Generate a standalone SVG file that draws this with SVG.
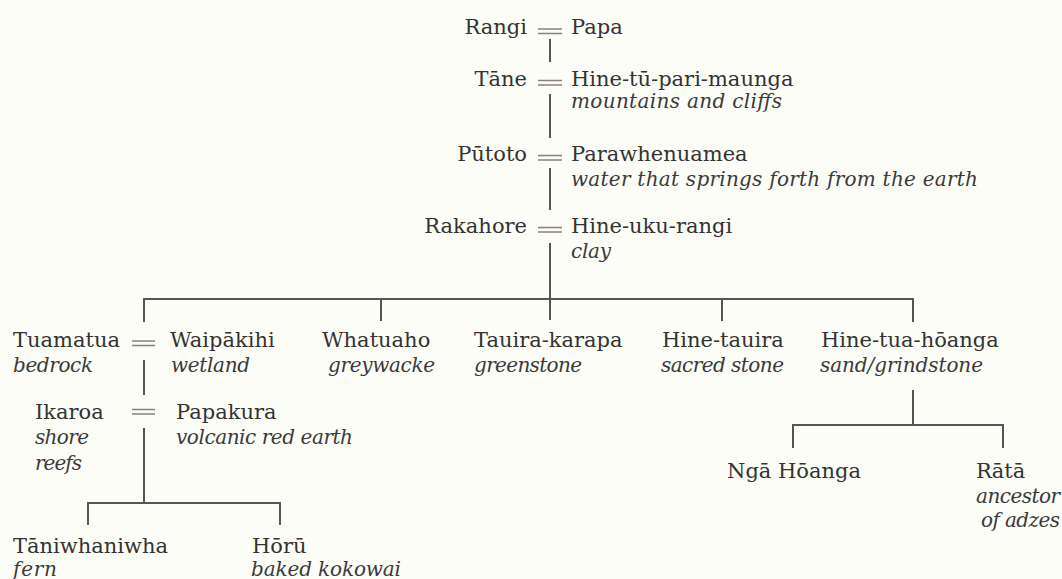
<svg xmlns="http://www.w3.org/2000/svg" width="1062" height="579" viewBox="0 0 1062 579">
<style>
.n{font-family:"DejaVu Serif","Liberation Serif",serif;font-size:21px;fill:#333}
.d{font-family:"DejaVu Serif","Liberation Serif",serif;font-size:20px;font-style:italic;fill:#3a3a3a}
.l{stroke:#555;stroke-width:2;fill:none}
.e{stroke:#8a8178;stroke-width:1.6}
</style>
<rect width="1062" height="579" fill="#fdfdf7"/>
<g id="connectors">
<path class="l" d="M550 39V62M550 94V138M550 168V210M550 243V320M144 322V299H913V322M381 299V321M722 299V321"/>
<path class="l" d="M144 360V395M144 428V503M88 525V503H280V525"/>
<path class="l" d="M913 390V425M793 448V425H1003V448"/>
<g class="e">
<path d="M538 29H562M538 33.5H562"/>
<path d="M538 80.5H562M538 85H562"/>
<path d="M538 155.5H562M538 160H562"/>
<path d="M538 227.5H562M538 232H562"/>
<path d="M132 341H155M132 345.5H155"/>
<path d="M132 409.5H155M132 414H155"/>
</g>
</g>
<g id="rangi"><text class="n" x="527" y="34" text-anchor="end">Rangi</text></g>
<g id="papa"><text class="n" x="571" y="34">Papa</text></g>
<g id="tane"><text class="n" x="527" y="86" text-anchor="end">Tāne</text></g>
<g id="hine-tu-pari-maunga"><text class="n" x="571" y="86">Hine-tū-pari-maunga</text><text class="d" x="571" y="108" textLength="211" lengthAdjust="spacing">mountains and cliffs</text></g>
<g id="putoto"><text class="n" x="527" y="161" text-anchor="end">Pūtoto</text></g>
<g id="parawhenuamea"><text class="n" x="571" y="161">Parawhenuamea</text><text class="d" x="571" y="186" textLength="407" lengthAdjust="spacing">water that springs forth from the earth</text></g>
<g id="rakahore"><text class="n" x="527" y="233" text-anchor="end">Rakahore</text></g>
<g id="hine-uku-rangi"><text class="n" x="571" y="233">Hine-uku-rangi</text><text class="d" x="571" y="258" textLength="40" lengthAdjust="spacing">clay</text></g>
<g id="tuamatua"><text class="n" x="13" y="347">Tuamatua</text><text class="d" x="13" y="372" textLength="80" lengthAdjust="spacing">bedrock</text></g>
<g id="waipakihi"><text class="n" x="170" y="347">Waipākihi</text><text class="d" x="171" y="372" textLength="79" lengthAdjust="spacing">wetland</text></g>
<g id="whatuaho"><text class="n" x="322" y="347">Whatuaho</text><text class="d" x="328" y="372" textLength="107" lengthAdjust="spacing">greywacke</text></g>
<g id="tauira-karapa"><text class="n" x="474" y="347">Tauira-karapa</text><text class="d" x="474" y="372" textLength="108" lengthAdjust="spacing">greenstone</text></g>
<g id="hine-tauira"><text class="n" x="662" y="347">Hine-tauira</text><text class="d" x="661" y="372" textLength="123" lengthAdjust="spacing">sacred stone</text></g>
<g id="hine-tua-hoanga"><text class="n" x="821" y="347">Hine-tua-hōanga</text><text class="d" x="820" y="372" textLength="163" lengthAdjust="spacing">sand/grindstone</text></g>
<g id="ikaroa"><text class="n" x="35" y="419">Ikaroa</text><text class="d" x="35" y="444" textLength="54" lengthAdjust="spacing">shore</text><text class="d" x="35" y="470" textLength="47" lengthAdjust="spacing">reefs</text></g>
<g id="papakura"><text class="n" x="176" y="419">Papakura</text><text class="d" x="176" y="444" textLength="177" lengthAdjust="spacing">volcanic red earth</text></g>
<g id="taniwhaniwha"><text class="n" x="13" y="553">Tāniwhaniwha</text><text class="d" x="13" y="576" textLength="44" lengthAdjust="spacing">fern</text></g>
<g id="horu"><text class="n" x="252" y="553">Hōrū</text><text class="d" x="251" y="576" textLength="150" lengthAdjust="spacing">baked kokowai</text></g>
<g id="nga-hoanga"><text class="n" x="727" y="478">Ngā Hōanga</text></g>
<g id="rata"><text class="n" x="976" y="478">Rātā</text><text class="d" x="1060" y="503" text-anchor="end" textLength="84" lengthAdjust="spacing">ancestor</text><text class="d" x="1060" y="527" text-anchor="end" textLength="79" lengthAdjust="spacing">of adzes</text></g>
</svg>
